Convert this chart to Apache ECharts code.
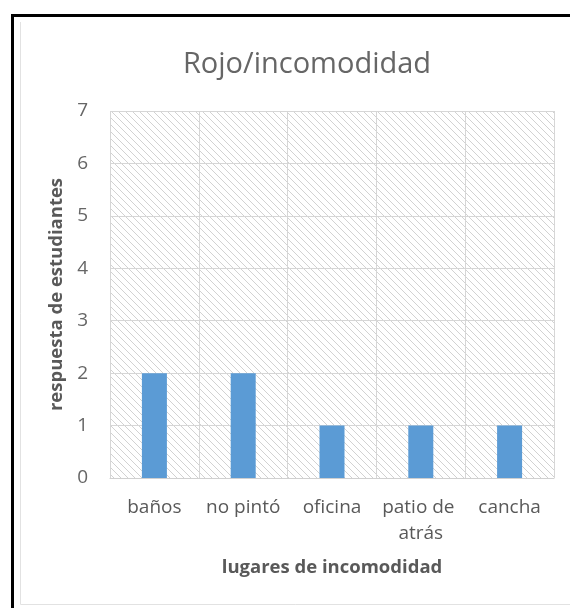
<!DOCTYPE html>
<html>
<head>
<meta charset="utf-8">
<script src="https://cdn.jsdelivr.net/npm/echarts@6/dist/echarts.min.js"></script>
<style>
  html, body { margin: 0; padding: 0; background: #ffffff; }
  #chart { width: 570px; height: 608px; }
</style>
</head>
<body>
<div id="chart"></div>
<script>
// Lugares señalados en rojo (incomodidad)
const categories = ['baños', 'no pintó', 'oficina', 'patio de atrás', 'cancha'];
const respuestas = [2, 2, 1, 1, 1];
const yTicks = [0, 1, 2, 3, 4, 5, 6, 7];

// Diagonal hatch tile for the plot background
function hatchTile() {
  const s = 7;
  const c = document.createElement('canvas');
  c.width = s; c.height = s;
  const g = c.getContext('2d');
  g.fillStyle = '#ffffff';
  g.fillRect(0, 0, s, s);
  g.strokeStyle = '#d2d2d2';
  g.lineWidth = 1;
  g.beginPath();
  g.moveTo(-1, -1); g.lineTo(s + 1, s + 1);
  g.moveTo(-1, s - 1); g.lineTo(1, s + 1);
  g.moveTo(s - 1, -1); g.lineTo(s + 1, 1);
  g.stroke();
  return c;
}

const font = '"Open Sans", "Noto Sans", sans-serif';
const chart = echarts.init(document.getElementById('chart'), null, { renderer: 'canvas' });

chart.setOption({
  animation: false,
  backgroundColor: '#ffffff',
  title: {
    text: 'Rojo/incomodidad',
    left: 307,
    textAlign: 'center',
    top: 50,
    padding: 0,
    textStyle: { fontFamily: font, fontSize: 29, fontWeight: 'normal', color: '#666666' }
  },
  grid: {
    left: 110, right: 16, top: 111, bottom: 130,
    show: true,
    borderWidth: 0,
    backgroundColor: { image: hatchTile(), repeat: 'repeat' }
  },
  xAxis: {
    type: 'category',
    data: categories,
    name: 'lugares de incomodidad',
    nameLocation: 'middle',
    nameGap: 80,
    nameTextStyle: { fontFamily: font, fontSize: 18.5, fontWeight: 'bold', color: '#595959' },
    axisLine: { show: true, lineStyle: { color: '#d0d0d0', width: 1 } },
    axisTick: { show: false },
    axisLabel: {
      fontFamily: font, fontSize: 19, color: '#595959', margin: 17,
      width: 86, overflow: 'break', lineHeight: 26, interval: 0
    },
    splitLine: { show: true, interval: 0, lineStyle: { color: '#d6d6d6', width: 1 } }
  },
  yAxis: {
    type: 'value',
    min: yTicks[0],
    max: yTicks[yTicks.length - 1],
    interval: 1,
    name: 'respuesta de estudiantes',
    nameLocation: 'middle',
    nameGap: 43,
    nameTextStyle: { fontFamily: font, fontSize: 18.5, fontWeight: 'bold', color: '#595959' },
    axisLine: { show: false },
    axisTick: { show: false },
    axisLabel: { fontFamily: font, fontSize: 19, color: '#666666', margin: 22 },
    splitLine: { show: true, lineStyle: { color: '#d6d6d6', width: 1 } }
  },
  series: [{
    type: 'bar',
    data: respuestas,
    barWidth: 25,
    itemStyle: { color: '#5b9bd5' }
  }],
  graphic: [
    // frame around the figure
    { type: 'rect', silent: true, shape: { x: 11, y: 14, width: 3, height: 600 }, style: { fill: '#000000' } },
    { type: 'rect', silent: true, shape: { x: 11, y: 14, width: 570, height: 3 }, style: { fill: '#000000' } },
    // light chart-area outline
    { type: 'line', silent: true, shape: { x1: 20.5, y1: 22, x2: 20.5, y2: 604.5 }, style: { stroke: '#e2e2e2', lineWidth: 1 } },
    { type: 'line', silent: true, shape: { x1: 20.5, y1: 604.5, x2: 570, y2: 604.5 }, style: { stroke: '#e2e2e2', lineWidth: 1 } }
  ]
});
</script>
</body>
</html>
